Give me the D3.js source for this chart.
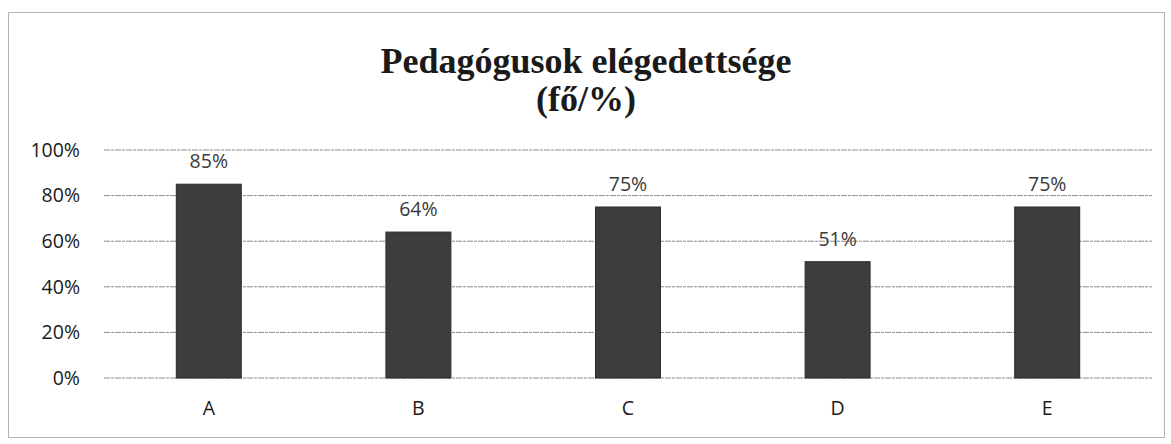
<!DOCTYPE html>
<html>
<head>
<meta charset="utf-8">
<script src="https://cdn.jsdelivr.net/npm/d3@7"></script>
<style>
  body { margin: 0; background: #fff; }
</style>
</head>
<body>
<div id="chart-container"></div>
<script>
// chart data
const categories = ["A", "B", "C", "D", "E"];
const values = [0.85, 0.64, 0.75, 0.51, 0.75];
const yTicks = [0, 0.2, 0.4, 0.6, 0.8, 1.0];
const titleLines = ["Pedagógusok elégedettsége", "(fő/%)"];

const W = 1171, H = 444;
const margin = { top: 150, right: 19, bottom: 66, left: 104 };
const width = W - margin.left - margin.right;
const height = H - margin.top - margin.bottom;

const svg = d3.select("#chart-container")
  .append("svg")
    .attr("width", W)
    .attr("height", H);

// outer frame
svg.append("rect")
  .attr("x", 8.5).attr("y", 12.5)
  .attr("width", 1156).attr("height", 425)
  .attr("fill", "none")
  .attr("stroke", "#b5b5b5")
  .attr("stroke-width", 1);

// title
svg.append("text")
  .attr("x", 586)
  .attr("y", 73)
  .style("text-anchor", "middle")
  .style("font-family", "'Liberation Serif', 'Times New Roman', serif")
  .style("font-weight", "bold")
  .style("font-size", "36px")
  .style("fill", "#1a1a1a")
  .selectAll("tspan")
  .data(titleLines)
  .join("tspan")
    .attr("x", 586)
    .attr("dy", (d, i) => i === 0 ? 0 : 38)
    .text(d => d);

const g = svg.append("g")
  .attr("transform", `translate(${margin.left},${margin.top})`);

const x = d3.scaleBand()
  .domain(categories)
  .range([0, width])
  .paddingInner(0.69)
  .paddingOuter(0.345);

const y = d3.scaleLinear()
  .domain([0, 1])
  .range([height, 0]);

// horizontal gridlines
g.selectAll(".grid")
  .data(yTicks)
  .join("line")
  .attr("class", "grid")
  .attr("x1", 0)
  .attr("x2", width)
  .attr("y1", d => y(d))
  .attr("y2", d => y(d))
  .attr("stroke", "#8a8a8a")
  .attr("stroke-width", 1)
  .attr("stroke-dasharray", "6,1,3,1");

// y axis
g.append("g")
  .call(d3.axisLeft(y)
    .tickValues(yTicks)
    .tickFormat(d3.format(".0%"))
    .tickSize(0)
    .tickPadding(24))
  .call(a => a.select(".domain").remove())
  .selectAll(".tick text")
  .style("font-family", "'Open Sans', 'Liberation Sans', sans-serif")
  .style("font-size", "19.5px")
  .style("fill", "#1a1a1a");

// x axis
g.append("g")
  .attr("transform", `translate(0,${height})`)
  .call(d3.axisBottom(x).tickSize(0).tickPadding(23))
  .call(a => a.select(".domain").remove())
  .selectAll(".tick text")
  .style("font-family", "'Open Sans', 'Liberation Sans', sans-serif")
  .style("font-size", "19.5px")
  .style("fill", "#1a1a1a");

// bars
g.selectAll(".bar")
  .data(values)
  .join("rect")
  .attr("class", "bar")
  .attr("x", (d, i) => x(categories[i]))
  .attr("y", d => y(d))
  .attr("width", x.bandwidth())
  .attr("height", d => height - y(d))
  .attr("fill", "#3e3c3f")
  .attr("stroke", "#2a2a2a")
  .attr("stroke-width", 1);

// data labels
g.selectAll(".lbl")
  .data(values)
  .join("text")
  .attr("class", "lbl")
  .attr("x", (d, i) => x(categories[i]) + x.bandwidth() / 2)
  .attr("y", d => y(d) - 16)
  .style("text-anchor", "middle")
  .style("font-family", "'Open Sans', 'Liberation Sans', sans-serif")
  .style("font-size", "19.5px")
  .style("fill", "#3a3a3a")
  .text(d => d3.format(".0%")(d));
</script>
</body>
</html>
